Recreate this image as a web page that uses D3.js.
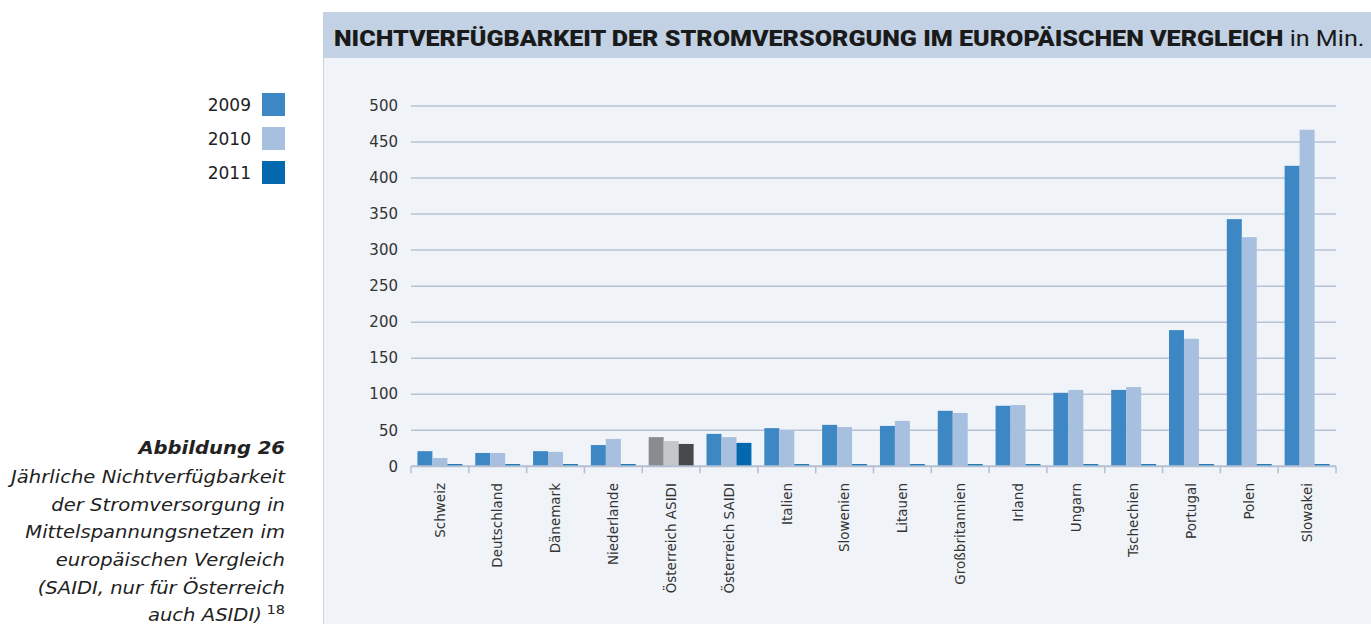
<!DOCTYPE html>
<html>
<head>
<meta charset="utf-8">
<script src="https://cdn.jsdelivr.net/npm/d3@7"></script>
<style>
  body { margin: 0; background: #fff; }
  svg { display: block; }
</style>
</head>
<body>
<div id="chart"></div>
<script>
// Nichtverfügbarkeit der Stromversorgung, Werte in Minuten

var countries = ["Schweiz", "Deutschland", "Dänemark", "Niederlande", "Österreich ASIDI", "Österreich SAIDI",
    "Italien", "Slowenien", "Litauen", "Großbritannien", "Irland", "Ungarn", "Tschechien", "Portugal", "Polen", "Slowakei"];
var years = ["2009", "2010", "2011"];
var values2009 = [21, 18.5, 21, 29.5, 40.5, 45, 53, 57.5, 56, 77, 84, 102, 106, 189, 343, 417];
var values2010 = [11.5, 18.5, 20, 38, 35, 40.5, 50, 54.5, 63, 74, 85, 106, 110, 177, 318, 467];
var values2011 = [3, 3, 3, 3, 31, 32.5, 3, 3, 3, 3, 3, 3, 3, 3, 3, 3];
var yTicks = [0, 50, 100, 150, 200, 250, 300, 350, 400, 450, 500];
var captionLines = ["Jährliche Nichtverfügbarkeit", "der Stromversorgung in", "Mittelspannungsnetzen im",
    "europäischen Vergleich", "(SAIDI, nur für Österreich"];

var colors = {"2009": "#3d88c4", "2010": "#a8c0df", "2011": "#0468ae"};
var greyColors = {"2009": "#8a8b8f", "2010": "#c6c7c9", "2011": "#48494b"};

var width = 1371, height = 624;

var svg = d3.select("#chart").append("svg")
    .attr("width", width)
    .attr("height", height);

// panel + title bar
svg.append("rect").attr("x", 323).attr("y", 12).attr("width", width - 323).attr("height", height - 12).attr("fill", "#f0f3f8");
svg.append("line").attr("x1", 323.5).attr("x2", 323.5).attr("y1", 12).attr("y2", height).attr("stroke", "#c9d4e3").attr("stroke-width", 1);
svg.append("rect").attr("x", 323).attr("y", 12).attr("width", width - 323).attr("height", 46).attr("fill", "#c2d1e3");

var title = svg.append("text")
    .attr("x", 334).attr("y", 46)
    .attr("font-family", "Roboto, sans-serif")
    .attr("font-size", 22)
    .attr("fill", "#1a1a1a");
title.append("tspan").attr("font-weight", 900).text("NICHTVERFÜGBARKEIT DER STROMVERSORGUNG IM EUROPÄISCHEN VERGLEICH");
title.append("tspan").attr("font-weight", "normal").text(" in Min.");
var tw = title.node().getComputedTextLength();
title.attr("transform", "translate(334,0) scale(" + (1031 / tw) + ",1) translate(-334,0)");

var x = d3.scaleBand().domain(countries).range([411, 1336]).padding(0);
var xs = d3.scaleBand().domain(years).range([0, x.bandwidth()]).paddingInner(0).paddingOuter(0.43);
var y = d3.scaleLinear().domain([0, 500]).range([466.3, 106]);

// grid
svg.append("g").selectAll("line")
    .data(yTicks.slice(1))
    .enter().append("line")
    .attr("x1", 411).attr("x2", 1336)
    .attr("y1", function(d) { return y(d); })
    .attr("y2", function(d) { return y(d); })
    .attr("stroke", "#b8c3d7")
    .attr("stroke-width", 1.5);

// y labels
svg.append("g").selectAll("text")
    .data(yTicks)
    .enter().append("text")
    .attr("x", 398)
    .attr("y", function(d) { return y(d); })
    .attr("dy", "0.35em")
    .attr("text-anchor", "end")
    .attr("font-family", "'DejaVu Sans', sans-serif")
    .attr("font-size", 15)
    .attr("fill", "#333")
    .text(function(d) { return d; });

// bars
var rows = countries.map(function(c, i) {
    return {country: c, vals: [values2009[i], values2010[i], values2011[i]]};
});

var groups = svg.append("g").selectAll("g")
    .data(rows)
    .enter().append("g")
    .attr("transform", function(d) { return "translate(" + x(d.country) + ",0)"; });

groups.selectAll("rect")
    .data(function(d) {
        return years.map(function(yr, j) { return {year: yr, value: d.vals[j], grey: d.country == "Österreich ASIDI"}; });
    })
    .enter().append("rect")
    .attr("x", function(d) { return xs(d.year); })
    .attr("y", function(d) { return y(d.value); })
    .attr("width", xs.bandwidth())
    .attr("height", function(d) { return y(0) - y(d.value); })
    .attr("fill", function(d) { return d.grey ? greyColors[d.year] : colors[d.year]; });

// x axis line + ticks
var axis = svg.append("g");
axis.append("line")
    .attr("x1", 411).attr("x2", 1336)
    .attr("y1", y(0)).attr("y2", y(0))
    .attr("stroke", "#b3bfd3").attr("stroke-width", 2);
axis.selectAll("line.tick")
    .data(countries.map(function(c) { return x(c); }).concat([1336]))
    .enter().append("line")
    .attr("class", "tick")
    .attr("x1", function(d) { return d; }).attr("x2", function(d) { return d; })
    .attr("y1", y(0)).attr("y2", y(0) + 7)
    .attr("stroke", "#b3bfd3").attr("stroke-width", 1.5);

axis.selectAll("text")
    .data(countries)
    .enter().append("text")
    .attr("transform", function(d) { return "translate(" + (x(d) + x.bandwidth() / 2) + "," + 483 + ") rotate(-90)"; })
    .attr("dy", "0.35em")
    .attr("text-anchor", "end")
    .attr("font-family", "'DejaVu Sans', sans-serif")
    .attr("font-size", 13.5)
    .attr("fill", "#333")
    .text(function(d) { return d; });

// legend
var legend = svg.append("g").selectAll("g")
    .data(years)
    .enter().append("g")
    .attr("transform", function(d, i) { return "translate(0," + (93 + i * 34) + ")"; });
legend.append("rect")
    .attr("x", 262).attr("y", 0)
    .attr("width", 23).attr("height", 23)
    .attr("fill", function(d) { return colors[d]; });
legend.append("text")
    .attr("x", 251).attr("y", 12)
    .attr("dy", "0.35em")
    .attr("text-anchor", "end")
    .attr("font-family", "'DejaVu Sans', sans-serif")
    .attr("font-size", 17)
    .attr("fill", "#222")
    .text(function(d) { return d; });

// caption
var cap = svg.append("g")
    .attr("transform", "translate(285,0) scale(1.12,1) translate(-285,0)")
    .attr("font-family", "'DejaVu Sans', sans-serif")
    .attr("font-style", "italic")
    .attr("font-size", 17.5)
    .attr("fill", "#222")
    .attr("text-anchor", "end");
cap.append("text").attr("x", 285).attr("y", 454).attr("font-weight", "bold").text("Abbildung 26");
cap.selectAll("text.line")
    .data(captionLines)
    .enter().append("text")
    .attr("class", "line")
    .attr("x", 285)
    .attr("y", function(d, i) { return 483 + i * 27.7; })
    .text(function(d) { return d; });
var last = cap.append("text").attr("x", 285).attr("y", 483 + 5 * 27.7);
last.append("tspan").text("auch ASIDI)");
last.append("tspan").attr("font-style", "normal").attr("font-size", 13).attr("dy", -7).text(" 18");
</script>
</body>
</html>
